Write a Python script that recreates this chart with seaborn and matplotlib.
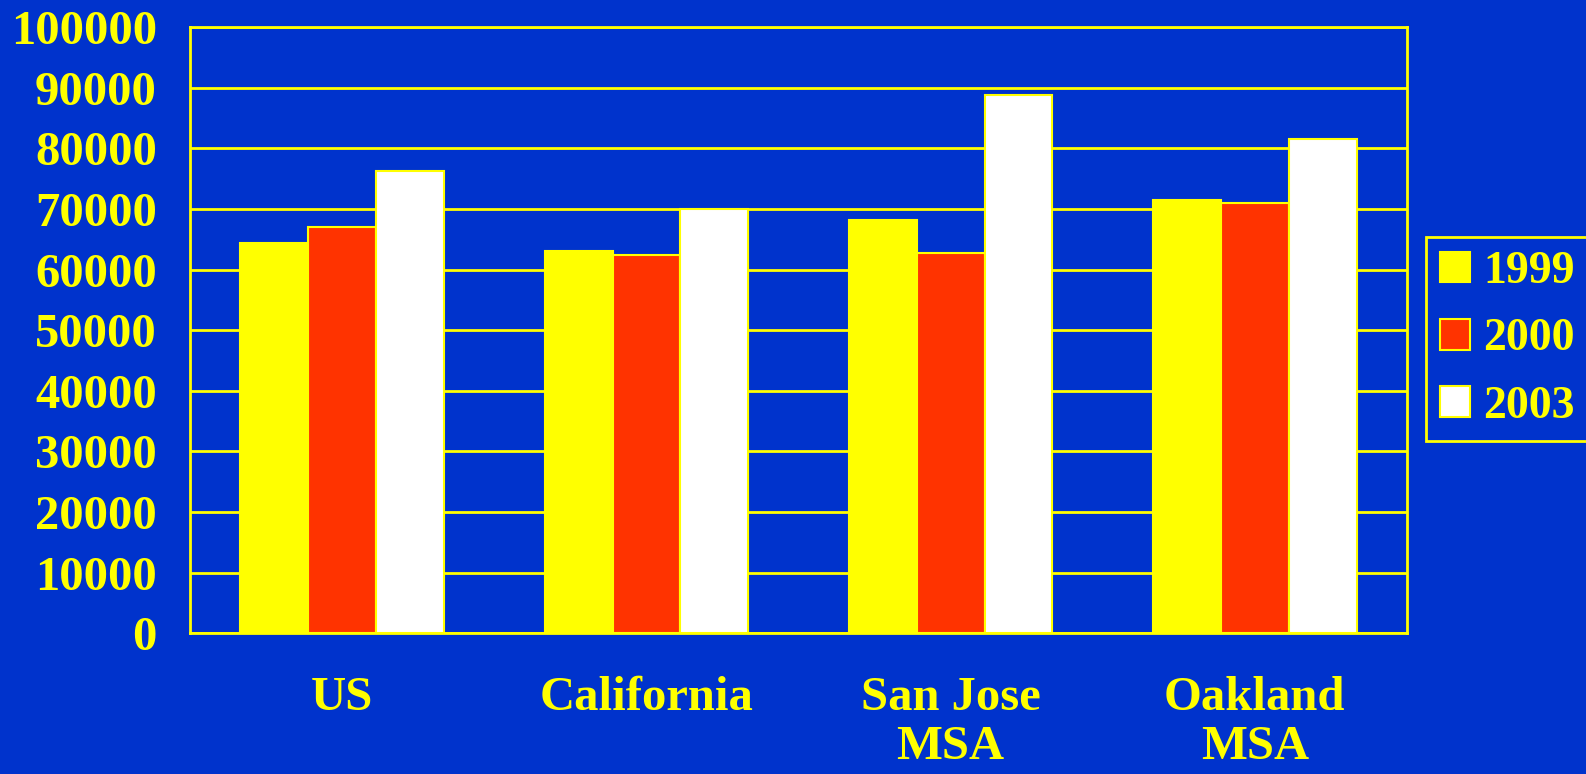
import pandas as pd
import matplotlib
matplotlib.use("Agg")
import matplotlib.pyplot as plt
import seaborn as sns

# Chart data
regions = ["US", "California", "San Jose\nMSA", "Oakland\nMSA"]
years = ["1999", "2000", "2003"]
vals_1999 = [64400, 63100, 68100, 71400]
vals_2000 = [67000, 62400, 62800, 70900]
vals_2003 = [76300, 70000, 88800, 81600]

BG = "#0033CC"
YEL = "#FFFF00"
colors = {"1999": "#FFFF00", "2000": "#FF3300", "2003": "#FFFFFF"}

df = pd.DataFrame({
    "region": regions * 3,
    "year": [y for y in years for _ in regions],
    "value": vals_1999 + vals_2000 + vals_2003,
})

sns.set_style("white")
plt.rcParams["font.family"] = ["Liberation Serif", "DejaVu Serif"]
plt.rcParams["font.weight"] = "bold"

fig = plt.figure(figsize=(15.86, 7.74), dpi=100)
fig.patch.set_facecolor(BG)
ax = fig.add_axes([0.12, 0.182, 0.767, 0.783])
ax.set_facecolor(BG)

sns.barplot(data=df, x="region", y="value", hue="year", hue_order=years,
            order=regions, palette=colors, width=0.67, edgecolor=YEL,
            linewidth=1.5, saturation=1, ax=ax, zorder=3)

ax.set_ylim(0, 100000)
ax.set_xlim(-0.5, 3.5)
ax.set_yticks(range(0, 100001, 10000))
ax.yaxis.grid(True, color=YEL, linewidth=2, zorder=0)
ax.set_axisbelow(True)
for s in ax.spines.values():
    s.set_color(YEL)
    s.set_linewidth(2)
    s.set_visible(True)

ax.tick_params(axis="y", colors=YEL, labelsize=35, length=10, width=2,
               pad=14, direction="out")
ax.tick_params(axis="x", which="major", colors=YEL, labelsize=35, length=0, pad=31)
ax.set_xticks([-0.5, 0.5, 1.5, 2.5, 3.5], minor=True)
ax.tick_params(axis="x", which="minor", colors=YEL, length=10, width=2)
for lab in ax.get_xticklabels() + ax.get_yticklabels():
    lab.set_fontweight("bold")
    lab.set_color(YEL)
    lab.set_linespacing(1.15)
ax.set_xlabel("")
ax.set_ylabel("")

leg = ax.legend(loc="upper left", bbox_to_anchor=(1.016, 0.653), frameon=True,
                fontsize=33, handlelength=0.65, handleheight=0.65,
                handletextpad=0.3, labelspacing=0.55, borderpad=0.3,
                fancybox=False, borderaxespad=0, framealpha=1)
leg.get_frame().set_facecolor(BG)
leg.get_frame().set_edgecolor(YEL)
leg.get_frame().set_linewidth(2)
for t in leg.get_texts():
    t.set_color(YEL)
    t.set_fontweight("bold")

fig.savefig("out.png", dpi=100, facecolor=BG)
